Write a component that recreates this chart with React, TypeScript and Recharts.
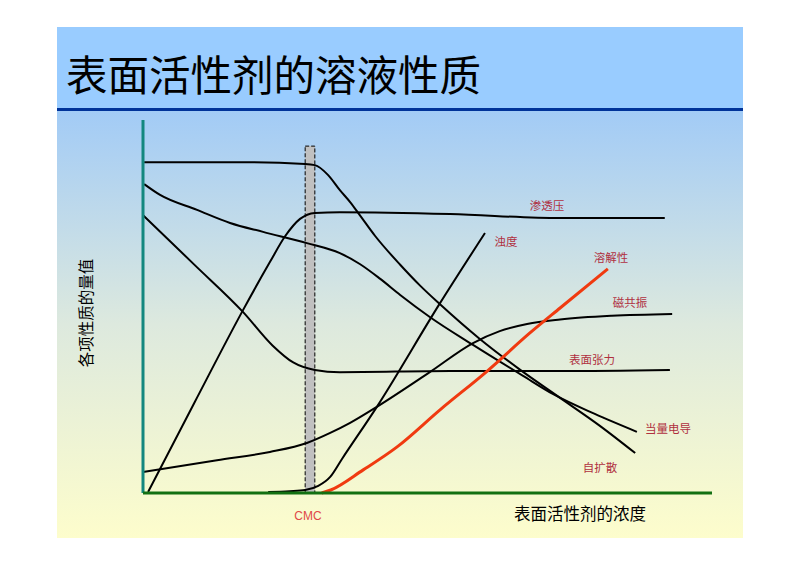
import React from 'react';
import { LineChart, Line, XAxis, YAxis, ReferenceLine, ReferenceArea } from 'recharts';

// concentration (x) vs. relative property value (y), both on a 0-100 arbitrary scale
const osmoticPressure: [number, number][] = [
  [0.9, 0.3], [9.1, 24.4], [17.6, 49.1], [22.3, 61.9], [25.0, 68.9], [27.6, 73.5],
  [30.2, 75.1], [34.6, 75.3], [54.0, 74.8], [73.3, 73.7], [91.7, 73.7],
];
const turbidity: [number, number][] = [
  [22.0, 0.3], [25.8, 0.5], [28.5, 0.8], [30.8, 1.9], [32.9, 4.3], [35.0, 9.2],
  [41.1, 23.1], [52.2, 50.9], [60.1, 69.7],
];
const solubility: [number, number][] = [
  [31.4, 0], [33.0, 0.8], [38.7, 6.2], [44.6, 12.3], [52.2, 22.3], [60.5, 32.7],
  [68.0, 42.9], [73.3, 49.6], [81.7, 60.1],
];
const nmr: [number, number][] = [
  [0, 5.6], [13.0, 8.8], [22.3, 11.0], [28.8, 13.4], [32.9, 16.1], [36.4, 18.8],
  [41.1, 23.1], [50.4, 32.4], [58.0, 40.2], [62.7, 43.4], [67.5, 45.3], [73.3, 46.5],
  [82.4, 47.5], [93.0, 48.0],
];
const surfaceTension: [number, number][] = [
  [0, 74.5], [9.1, 61.1], [17.6, 48.5], [22.8, 39.5], [26.4, 35.0], [30.2, 33.0],
  [34.6, 32.4], [54.0, 32.7], [73.3, 32.7], [92.6, 33.0],
];
const equivConductance: [number, number][] = [
  [0.2, 82.8], [3.0, 79.9], [9.5, 75.9], [15.3, 72.4], [21.1, 70.0], [28.8, 67.0],
  [34.6, 64.3], [38.1, 61.4], [41.7, 57.4], [45.2, 53.1], [50.4, 47.2], [58.0, 39.7],
  [66.8, 31.4], [72.1, 26.5], [79.4, 21.2], [86.8, 16.4],
];
const selfDiffusion: [number, number][] = [
  [0.2, 88.7], [15.3, 88.7], [28.5, 88.2], [30.2, 87.9], [32.5, 85.3], [34.6, 81.2],
  [36.4, 78.0], [38.1, 74.5], [40.8, 68.9], [45.2, 61.2], [48.7, 55.6], [52.2, 50.6],
  [59.2, 41.3], [66.3, 33.0], [73.3, 25.5], [80.3, 18.0], [86.5, 10.7],
];

const cmcRange = [28.5, 30.2];
const cmcTop = 93;

const toPoints = (arr: [number, number][]) => arr.map(([x, y]) => ({ x, y }));

const series = [
  { name: '渗透压', data: osmoticPressure, color: '#000', width: 2 },
  { name: '浊度', data: turbidity, color: '#000', width: 2 },
  { name: '磁共振', data: nmr, color: '#000', width: 2 },
  { name: '表面张力', data: surfaceTension, color: '#000', width: 2 },
  { name: '当量电导', data: equivConductance, color: '#000', width: 2 },
  { name: '自扩散', data: selfDiffusion, color: '#000', width: 2 },
  { name: '溶解性', data: solubility, color: '#f03a10', width: 3 },
];

const curveLabels = [
  { text: '渗透压', left: 547, top: 205 },
  { text: '浊度', left: 506, top: 241 },
  { text: '溶解性', left: 611, top: 257 },
  { text: '磁共振', left: 630, top: 302 },
  { text: '表面张力', left: 592, top: 359 },
  { text: '当量电导', left: 668, top: 428 },
  { text: '自扩散', left: 600, top: 467 },
];

const cjk = '"Noto Sans CJK SC", "Noto Sans", sans-serif';

const App: React.FC = () => {
  return (
    <div style={{ position: 'absolute', left: 0, top: 0, width: 800, height: 566, background: '#fff', overflow: 'hidden' }}>
      {/* slide background */}
      <div style={{ position: 'absolute', left: 57, top: 27, width: 686, height: 81, background: '#99ccff' }} />
      <div style={{ position: 'absolute', left: 57, top: 108, width: 686, height: 3, background: '#003399' }} />
      <div style={{
        position: 'absolute', left: 57, top: 111, width: 686, height: 427,
        background: 'linear-gradient(to bottom, #a2cbf6 0%, #dde9de 50%, #fdfdcc 100%)',
      }} />
      <div style={{
        position: 'absolute', left: 66, top: 52, fontFamily: cjk, fontSize: 41.5,
        lineHeight: '42px', color: '#000', whiteSpace: 'nowrap',
      }}>
        表面活性剂的溶液性质
      </div>

      <LineChart
        width={800}
        height={566}
        margin={{ top: 120, right: 88, bottom: 73, left: 143 }}
        style={{ position: 'absolute', left: 0, top: 0 }}
      >
        <XAxis type="number" dataKey="x" domain={[0, 100]} hide />
        <YAxis type="number" dataKey="y" domain={[0, 100]} hide />
        <ReferenceArea
          x1={cmcRange[0]}
          x2={cmcRange[1]}
          y1={0}
          y2={cmcTop}
          fill="#c0c0c0"
          fillOpacity={1}
          stroke="#000"
          strokeDasharray="4 2"
        />
        {series.map((s) => (
          <Line
            key={s.name}
            data={toPoints(s.data)}
            dataKey="y"
            type="monotone"
            stroke={s.color}
            strokeWidth={s.width}
            dot={false}
            activeDot={false}
            isAnimationActive={false}
          />
        ))}
        <ReferenceLine x={0} stroke="#13877f" strokeWidth={3} />
        <ReferenceLine y={0} stroke="#127012" strokeWidth={3} />
      </LineChart>

      {curveLabels.map((l) => (
        <div key={l.text} style={{
          position: 'absolute', left: l.left, top: l.top, transform: 'translate(-50%, -50%)',
          fontFamily: cjk, fontSize: 11.5, color: '#b0303f', whiteSpace: 'nowrap',
        }}>
          {l.text}
        </div>
      ))}

      <div style={{
        position: 'absolute', left: 308, top: 516, transform: 'translate(-50%, -50%)',
        fontFamily: 'Arial, "Liberation Sans", sans-serif', fontSize: 12, color: '#e04848',
      }}>
        CMC
      </div>
      <div style={{
        position: 'absolute', left: 580, top: 513, transform: 'translate(-50%, -50%)',
        fontFamily: cjk, fontSize: 16.5, color: '#000', whiteSpace: 'nowrap',
      }}>
        表面活性剂的浓度
      </div>
      <div style={{
        position: 'absolute', left: 85, top: 313, transform: 'translate(-50%, -50%) rotate(-90deg)',
        fontFamily: cjk, fontSize: 15.5, color: '#000', whiteSpace: 'nowrap',
      }}>
        各项性质的量值
      </div>
    </div>
  );
};

export default App;
